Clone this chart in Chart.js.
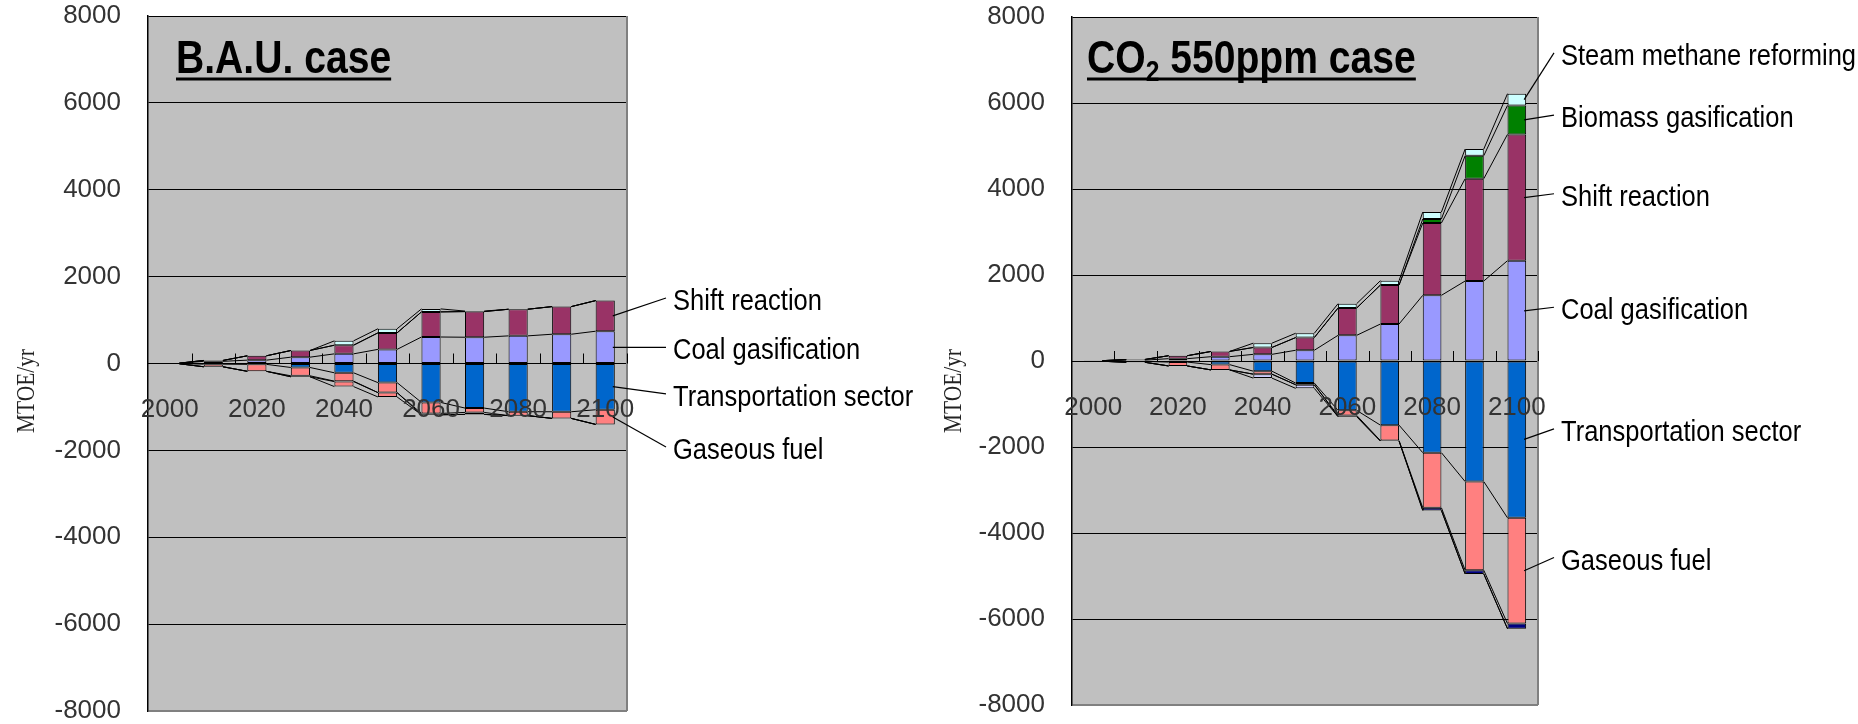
<!DOCTYPE html>
<html lang="en">
<head>
  <meta charset="UTF-8">
  <title>Hydrogen supply and demand - B.A.U. and CO2 550ppm cases</title>
  <script src="https://cdn.jsdelivr.net/npm/chart.js@4.4.0/dist/chart.umd.min.js"></script>
  <style>
    body { margin: 0; background: #fff; }
    #wrap { position: relative; width: 1858px; height: 724px; }
    canvas { position: absolute; top: 0; }
  </style>
</head>
<body>
  <div id="wrap">
    <canvas id="bau" width="929" height="724" style="left:0"></canvas>
    <canvas id="ppm" width="929" height="724" style="left:929px"></canvas>
  </div>

  <script>
    // categories
    var years = ['2000', '2010', '2020', '2030', '2040', '2050', '2060', '2070', '2080', '2090', '2100'];
    var yTicks = [-8000, -6000, -4000, -2000, 0, 2000, 4000, 6000, 8000];

    // B.A.U. case (MTOE/yr)
    var bauCoal      = [5, 50, 77, 146, 222, 325, 610, 605, 636, 674, 743];
    var bauShift     = [3, 20, 100, 153, 199, 380, 578, 590, 613, 636, 705];
    var bauBiomass   = [0, 0, 0, 0, 0, 0, 0, 0, 0, 0, 0];
    var bauSteam     = [0, 0, 0, 0, 100, 95, 69, 12, 0, 0, 0];
    var bauTransport = [-3, -15, -20, -92, -214, -440, -896, -1026, -1110, -1111, -1065];
    var bauGaseous   = [-3, -60, -160, -191, -192, -230, -253, -100, -90, -153, -337];
    var bauNavy      = [0, 0, 0, -23, -10, 0, -31, -46, 0, 0, 0];
    var bauOther     = [0, 0, 0, 0, -115, -100, 0, 0, 0, 0, 0];

    // CO2 550ppm case (MTOE/yr)
    var ppmCoal      = [5, 20, 54, 100, 155, 250, 597, 860, 1527, 1860, 2333];
    var ppmShift     = [3, 15, 69, 122, 160, 295, 635, 907, 1682, 2379, 2937];
    var ppmBiomass   = [0, 0, 0, 0, 0, 0, 0, 0, 93, 535, 674];
    var ppmSteam     = [0, 0, 0, 0, 100, 100, 101, 101, 162, 155, 272];
    var ppmTransport = [-3, -10, -25, -84, -237, -513, -1148, -1492, -2132, -2804, -3647];
    var ppmGaseous   = [-3, -20, -90, -123, -69, -39, -117, -359, -1281, -2062, -2460];
    var ppmNavy      = [0, 0, 0, 0, 0, 0, -30, -10, -62, -85, -118];
    var ppmOther     = [0, 0, 0, 0, -92, -84, 0, 0, 0, 0, 0];

    var TXT_FONT = '"Liberation Sans", Arial, sans-serif';
    var NUM_FONT = '"Liberation Sans", Arial, sans-serif';

    // per chart decorations (titles, label placement)
    var decor = {
      bau: {
        title: [{ text: 'B.A.U. case', size: 46, dy: 0 }],
        titleDx: 28,
        axisTitleX: 27,
        labelGap: 46,
        items: [
          { ds: 1, at: 1507 },
          { ds: 0, at: null },
          { ds: 4, at: -700 },
          { ds: 5, at: -1920 }
        ]
      },
      ppm: {
        title: [
          { text: 'CO', size: 46, dy: 0 },
          { text: '2', size: 29, dy: 8 },
          { text: ' 550ppm case', size: 46, dy: 0 }
        ],
        titleDx: 15,
        axisTitleX: 25,
        labelGap: 23,
        items: [
          { ds: 3, at: 7164 },
          { ds: 2, at: 5720 },
          { ds: 1, at: 3890 },
          { ds: 0, at: 1250 },
          { ds: 4, at: -1580 },
          { ds: 5, at: -4570 }
        ]
      }
    };

    function makeSets(d, otherColor) {
      return [
        { label: 'Coal gasification', data: d[0], backgroundColor: '#9999FF', side: 1 },
        { label: 'Shift reaction', data: d[1], backgroundColor: '#993366', side: 1 },
        { label: 'Biomass gasification', data: d[2], backgroundColor: '#008000', side: 1 },
        { label: 'Steam methane reforming', data: d[3], backgroundColor: '#CCFFFF', side: 1 },
        { label: 'Transportation sector', data: d[4], backgroundColor: '#0066CC', side: -1 },
        { label: 'Gaseous fuel', data: d[5], backgroundColor: '#FF8080', side: -1 },
        { label: 'Other', data: d[6], backgroundColor: '#000080', side: -1 },
        { label: 'Other 2', data: d[7], backgroundColor: otherColor, side: -1 }
      ];
    }

    // outer edge of a stacked segment, in data units
    function stackEdge(chart, di, i) {
      var sets = chart.data.datasets, side = sets[di].side, sum = 0;
      for (var k = 0; k <= di; k++) {
        if (sets[k].side === side) sum += sets[k].data[i];
      }
      return sum;
    }

    // grey plot area, right border and x tick marks
    var plotBg = {
      id: 'plotBg',
      beforeDraw: function (chart) {
        var a = chart.chartArea, ctx = chart.ctx;
        ctx.save();
        ctx.fillStyle = '#C0C0C0';
        ctx.fillRect(a.left, a.top, a.right - a.left, a.bottom - a.top);
        ctx.restore();
      },
      beforeDatasetsDraw: function (chart) {
        var a = chart.chartArea, ctx = chart.ctx, x = chart.scales.x, y = chart.scales.y;
        var zero = y.getPixelForValue(0), band = x.getPixelForValue(1) - x.getPixelForValue(0);
        ctx.save();
        ctx.strokeStyle = '#808080';
        ctx.lineWidth = 2;
        ctx.beginPath();
        ctx.moveTo(a.right, a.top);
        ctx.lineTo(a.right, a.bottom);
        ctx.stroke();
        ctx.strokeStyle = '#000';
        ctx.lineWidth = 1;
        for (var i = 0; i < years.length; i++) {
          var tx = Math.round(x.getPixelForValue(i) + band / 2) + 0.5;
          ctx.beginPath();
          ctx.moveTo(tx, zero);
          ctx.lineTo(tx, zero - 10);
          ctx.stroke();
        }
        ctx.restore();
      }
    };

    // Excel style series lines between the bars
    var seriesLines = {
      id: 'seriesLines',
      afterDatasetsDraw: function (chart) {
        var ctx = chart.ctx, y = chart.scales.y;
        ctx.save();
        ctx.strokeStyle = '#000';
        ctx.lineWidth = 1;
        chart.data.datasets.forEach(function (ds, di) {
          var bars = chart.getDatasetMeta(di).data;
          for (var i = 0; i < bars.length - 1; i++) {
            var a = bars[i], b = bars[i + 1];
            ctx.beginPath();
            ctx.moveTo(a.x + a.width / 2, y.getPixelForValue(stackEdge(chart, di, i)));
            ctx.lineTo(b.x - b.width / 2, y.getPixelForValue(stackEdge(chart, di, i + 1)));
            ctx.stroke();
          }
        });
        ctx.restore();
      }
    };

    // titles, axis title and leader labels
    var annotations = {
      id: 'annotations',
      afterDraw: function (chart) {
        var o = decor[chart.canvas.id];
        var ctx = chart.ctx, a = chart.chartArea, y = chart.scales.y;
        var last = years.length - 1;
        ctx.save();

        // chart title (bold, condensed, underlined)
        var tx = a.left + o.titleDx, base = 72.5, sx = 0.85, cx = tx;
        ctx.fillStyle = '#000';
        ctx.textBaseline = 'alphabetic';
        o.title.forEach(function (p) {
          ctx.font = 'bold ' + p.size + 'px ' + TXT_FONT;
          ctx.save();
          ctx.translate(cx, base + (p.dy || 0));
          ctx.scale(sx, 1);
          ctx.fillText(p.text, 0, 0);
          ctx.restore();
          cx += ctx.measureText(p.text).width * sx;
        });
        ctx.fillRect(tx, base + 5, cx - tx, 3);

        // y axis title, stretched to the length seen in the original
        ctx.font = '25px "Liberation Serif", "DejaVu Serif", serif';
        ctx.fillStyle = '#222';
        ctx.textAlign = 'center';
        ctx.textBaseline = 'middle';
        var tw = ctx.measureText('MTOE/yr').width;
        ctx.save();
        ctx.translate(o.axisTitleX, 391);
        ctx.rotate(-Math.PI / 2);
        ctx.scale(84 / tw, 1);
        ctx.fillText('MTOE/yr', 0, 0);
        ctx.restore();

        // leader lines and series names next to the last bar
        ctx.strokeStyle = '#000';
        ctx.lineWidth = 1.2;
        ctx.fillStyle = '#000';
        ctx.textAlign = 'left';
        ctx.font = '29px ' + TXT_FONT;
        var textX = a.right + o.labelGap;
        o.items.forEach(function (it) {
          var bar = chart.getDatasetMeta(it.ds).data[last];
          var edge = stackEdge(chart, it.ds, last);
          var top = y.getPixelForValue(edge);
          var bot = y.getPixelForValue(edge - chart.data.datasets[it.ds].data[last]);
          var midY = (top + bot) / 2;
          var ly = typeof it.at === 'number' ? y.getPixelForValue(it.at) : midY;
          ctx.beginPath();
          ctx.moveTo(bar.x + bar.width / 2 - 2, midY);
          ctx.lineTo(textX - 7, ly);
          ctx.stroke();
          ctx.save();
          ctx.translate(textX, ly + 4);
          ctx.scale(0.88, 1);
          ctx.fillText(chart.data.datasets[it.ds].label, 0, 0);
          ctx.restore();
        });
        ctx.restore();
      }
    };

    function buildChart(id, sets, pad, axisWidth) {
      return new Chart(document.getElementById(id), {
        type: 'bar',
        data: { labels: years, datasets: sets },
        plugins: [plotBg, seriesLines, annotations],
        options: {
          responsive: false,
          animation: false,
          devicePixelRatio: 1,
          layout: { padding: pad },
          datasets: {
            bar: {
              barPercentage: 0.44,
              categoryPercentage: 1.0,
              borderColor: '#000',
              borderWidth: 1,
              borderSkipped: false
            }
          },
          plugins: {
            legend: { display: false },
            tooltip: { enabled: false }
          },
          scales: {
            x: {
              stacked: true,
              position: { y: 0 },
              offset: true,
              grid: { display: false, drawTicks: false },
              border: { color: '#000', width: 1 },
              ticks: {
                z: 1,
                autoSkip: false,
                maxRotation: 0,
                padding: 31,
                color: '#333',
                font: { family: NUM_FONT, size: 26 },
                callback: function (v, i) { return i % 2 ? '' : years[i]; }
              }
            },
            y: {
              stacked: true,
              min: yTicks[0],
              max: yTicks[yTicks.length - 1],
              afterFit: function (s) {
                s.width = axisWidth;
                s.paddingTop = 0;
                s.paddingBottom = 0;
              },
              afterBuildTicks: function (s) { s.ticks = yTicks.map(function (v) { return { value: v }; }); },
              grid: {
                color: function (c) { return c.tick && c.tick.value === yTicks[0] ? '#808080' : '#000'; },
                lineWidth: function (c) { return c.tick && c.tick.value === yTicks[0] ? 2 : 1; },
                drawTicks: false
              },
              border: { color: '#000', width: 1.5 },
              ticks: {
                padding: 27,
                color: '#333',
                font: { family: NUM_FONT, size: 26 },
                callback: function (v) { return String(v); }
              }
            }
          }
        }
      });
    }

    buildChart('bau',
      makeSets([bauCoal, bauShift, bauBiomass, bauSteam, bauTransport, bauGaseous, bauNavy, bauOther], '#FF8080'),
      { left: 0, top: 16, right: 302, bottom: 13 }, 148);

    buildChart('ppm',
      makeSets([ppmCoal, ppmShift, ppmBiomass, ppmSteam, ppmTransport, ppmGaseous, ppmNavy, ppmOther], '#CCCCFF'),
      { left: 0, top: 17, right: 320, bottom: 19 }, 143);
  </script>
</body>
</html>
